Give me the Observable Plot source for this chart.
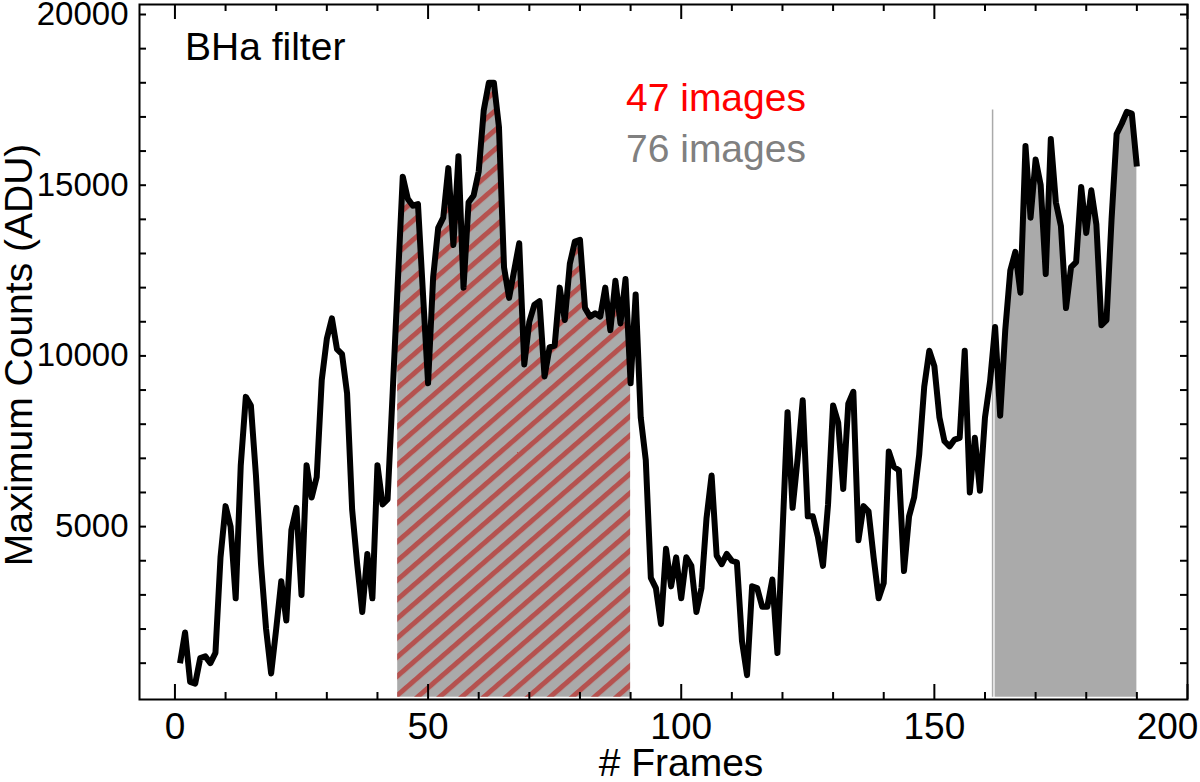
<!DOCTYPE html>
<html>
<head>
<meta charset="utf-8">
<script src="https://cdn.jsdelivr.net/npm/d3@7"></script>
<script src="https://cdn.jsdelivr.net/npm/@observablehq/plot@0.6"></script>
<style>
  html, body { margin: 0; padding: 0; background: white; }
  #chart { width: 1200px; height: 782px; }
</style>
</head>
<body>
<div id="chart"></div>
<script>
// Maximum counts (ADU) per frame, frames 1..190
const counts = [
  1000, 1900, 450, 400, 1150, 1200, 1000, 1300, 4100, 5600,
  5000, 2900, 6800, 8800, 8550, 6500, 3900, 2000, 700, 2000,
  3400, 2250, 4900, 5550, 3000, 6800, 5850, 6450, 9300, 10500,
  11100, 10200, 10050, 8900, 5500, 3900, 2500, 4200, 2900, 6800,
  5650, 5800, 8900, 12100, 15250, 14600, 14400, 14450, 11800, 9200,
  12300, 13750, 14050, 15500, 13250, 15850, 12000, 14500, 14700, 15400,
  17200, 18000, 18000, 16700, 12600, 11700, 12500, 13300, 9750, 11000,
  11500, 11600, 9400, 10250, 10300, 12000, 11050, 12700, 13350, 13400,
  11400, 11150, 11250, 11150, 12000, 10750, 12200, 10950, 12250, 9200,
  11800, 8200, 6950, 3500, 3200, 2150, 4350, 3250, 4100, 2900,
  4100, 3850, 2500, 3200, 5250, 6500, 4150, 3900, 4200, 4000,
  3950, 1650, 650, 3250, 3200, 2650, 2650, 3450, 1300, 4800,
  8350, 5550, 7000, 8700, 5300, 5300, 4700, 3850, 5650, 8550,
  8050, 6100, 8600, 8950, 4600, 5600, 5450, 4100, 2900, 3350,
  7200, 6750, 6650, 3700, 5300, 5850, 7100, 9100, 10150, 9700,
  8200, 7500, 7350, 7550, 7600, 10150, 6000, 7600, 6050, 8200,
  9250, 10850, 8250, 10750, 12500, 13050, 11850, 16150, 14050, 15750,
  15000, 12400, 16350, 14500, 13800, 11400, 12600, 12750, 14950, 13600,
  14850, 13850, 10900, 11050, 14000, 16500, 16800, 17150, 17100, 15550
];
const frames = counts.map((_, i) => i + 1);

// selected frame ranges
const hatchRange = [44, 90];    // 47 images (red hatch)
const grayRange = [162, 190];   // remaining of the 76 images (gray)
const markerFrame = [161.5];    // thin gray vertical line
const markerTop = 17200;

// axis ticks
const xTickLabels = [0, 50, 100, 150];
const xLastLabel = [200];
const xMajor = [0, 50, 100, 150, 200];
const xMinor = [10, 20, 30, 40, 60, 70, 80, 90, 110, 120, 130, 140, 160, 170, 180, 190];
const yTickLabels = [5000, 10000, 15000, 20000];
const yTicks = [1000, 2000, 3000, 4000, 5000, 6000, 7000, 8000, 9000, 10000,
  11000, 12000, 13000, 14000, 15000, 16000, 17000, 18000, 19000, 20000];

// annotations
const filterLabel = "BHa filter";
const label47 = "47 images";
const label76 = "76 images";
const xTitle = "# Frames";
const yTitle = "Maximum Counts (ADU)";

const data = frames.map((f, i) => ({ frame: f, value: counts[i] }));
const hatchData = data.filter(d => d.frame >= hatchRange[0] && d.frame <= hatchRange[1]);
const grayData = data.filter(d => d.frame >= grayRange[0] && d.frame <= grayRange[1]);

const W = 1200, H = 782;
const mL = 139, mR = 13, mT = 4, mB = 83;
const innerW = W - mL - mR, innerH = H - mT - mB;
const font = "'Liberation Sans', Arial, Helvetica, sans-serif";
const plain = d => String(d);

const chart = Plot.plot({
  width: W,
  height: H,
  marginLeft: mL,
  marginRight: mR,
  marginTop: mT,
  marginBottom: mB,
  style: { fontFamily: font, background: "white", color: "black" },
  x: { domain: [-7, 200] },
  y: { domain: [-64, 20293] },
  marks: [
    Plot.areaY(hatchData, { x: "frame", y: "value", fill: "#aaaaaa" }),
    Plot.areaY(hatchData, { x: "frame", y: "value", fill: "url(#hatch)" }),
    Plot.areaY(grayData, { x: "frame", y: "value", fill: "#aaaaaa" }),
    Plot.ruleX(markerFrame, { x: d => d, y1: 0, y2: markerTop, stroke: "#aaaaaa", strokeWidth: 1.5 }),
    Plot.line(data, { x: "frame", y: "value", stroke: "black", strokeWidth: 6, strokeLinejoin: "round", strokeLinecap: "butt" }),
    // ticks, inward, on all four sides
    Plot.ruleX(xMajor, { x: d => d, stroke: "black", strokeWidth: 2, insetTop: innerH - 15 }),
    Plot.ruleX(xMinor, { x: d => d, stroke: "black", strokeWidth: 2, insetTop: innerH - 7 }),
    Plot.ruleX(xMajor, { x: d => d, stroke: "black", strokeWidth: 2, insetBottom: innerH - 15 }),
    Plot.ruleX(xMinor, { x: d => d, stroke: "black", strokeWidth: 2, insetBottom: innerH - 7 }),
    Plot.ruleY(yTicks, { y: d => d, stroke: "black", strokeWidth: 2, insetRight: innerW - 7 }),
    Plot.ruleY(yTicks, { y: d => d, stroke: "black", strokeWidth: 2, insetLeft: innerW - 7 }),
    Plot.axisX({ ticks: xTickLabels, tickSize: 0, tickPadding: 13, fontSize: 37, label: null, anchor: "bottom", tickFormat: plain }),
    Plot.axisX({ ticks: xLastLabel, tickSize: 0, tickPadding: 13, fontSize: 37, label: null, anchor: "bottom", tickFormat: plain, dx: -20 }),
    Plot.axisY({ ticks: yTickLabels, tickSize: 0, tickPadding: 11, fontSize: 33, label: null, anchor: "left", tickFormat: plain }),
    Plot.frame({ stroke: "black", strokeWidth: 2 })
  ]
});

document.getElementById("chart").appendChild(chart);

const svg = d3.select(chart);
// hatch pattern definition
const defs = svg.insert("defs", ":first-child");
const pat = defs.append("pattern")
  .attr("id", "hatch")
  .attr("patternUnits", "userSpaceOnUse")
  .attr("width", 14.5)
  .attr("height", 14.5)
  .attr("patternTransform", "rotate(-41)");
pat.append("rect").attr("x", 0).attr("y", 0).attr("width", 14.5).attr("height", 5).attr("fill", "#b5524f");

// text annotations
function addText(x, y, str, color, anchor) {
  return svg.append("text").attr("x", x).attr("y", y)
    .attr("text-anchor", anchor)
    .attr("font-size", 39).attr("font-family", font).attr("fill", color).text(str);
}
addText(185, 60, filterLabel, "black", "start");
addText(626, 111, label47, "#ff0000", "start");
addText(626, 162, label76, "#808080", "start");
addText(681, 776, xTitle, "black", "middle");
svg.append("text").attr("transform", "translate(32,355) rotate(-90)").attr("text-anchor", "middle")
  .attr("font-size", 39).attr("font-family", font).attr("fill", "black").text(yTitle);
</script>
</body>
</html>
